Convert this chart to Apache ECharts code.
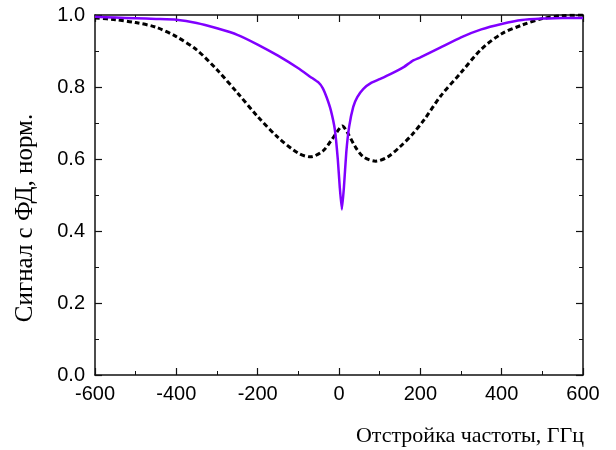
<!DOCTYPE html>
<html>
<head>
<meta charset="utf-8">
<script src="https://cdn.jsdelivr.net/npm/echarts@6/dist/echarts.min.js"></script>
<style>
  html, body { margin: 0; padding: 0; background: #fff; }
  #chart { width: 616px; height: 450px; }
</style>
</head>
<body>
<div id="chart"></div>
<script>
// violet curve (solid)
var violetX = [-600, -550, -500, -450, -400, -350, -300, -250, -200, -150, -100, -70, -50, -40, -30, -20, -10, -3, 2, 7, 12, 18, 25, 35, 45, 60, 80, 100, 130, 160, 180, 200, 250, 300, 350, 400, 450, 500, 550, 600];
var violetY = [0.995, 0.993, 0.991, 0.989, 0.987, 0.978, 0.963, 0.945, 0.918, 0.887, 0.852, 0.828, 0.812, 0.797, 0.77, 0.735, 0.68, 0.6, 0.52, 0.46, 0.52, 0.62, 0.69, 0.745, 0.772, 0.795, 0.812, 0.822, 0.838, 0.856, 0.872, 0.882, 0.91, 0.938, 0.96, 0.975, 0.986, 0.99, 0.992, 0.992];
// black curve (dotted)
var blackX = [-600, -550, -500, -450, -400, -350, -300, -250, -200, -150, -100, -70, -40, -20, 0, 8, 20, 40, 60, 90, 120, 150, 180, 210, 250, 300, 350, 400, 450, 500, 550, 600];
var blackY = [0.992, 0.987, 0.979, 0.966, 0.94, 0.903, 0.848, 0.784, 0.718, 0.66, 0.616, 0.606, 0.622, 0.65, 0.683, 0.692, 0.675, 0.634, 0.606, 0.594, 0.606, 0.634, 0.668, 0.71, 0.775, 0.84, 0.905, 0.948, 0.972, 0.99, 0.998, 1.0];

function zip(xs, ys) {
  return xs.map(function (x, i) { return [x, ys[i]]; });
}

var chart = echarts.init(document.getElementById('chart'));

var axisLine = { show: true, onZero: false, lineStyle: { color: '#111', width: 1.5 } };
var tickIn = { show: true, inside: true, length: 7, lineStyle: { color: '#111', width: 1.2 } };
var minorIn = { show: true, splitNumber: 2, length: 4, lineStyle: { color: '#111', width: 1 } };
var labelFont = { color: '#000', fontFamily: 'Liberation Sans, Arial', fontSize: 20 };
var serif = '"Liberation Serif", "Times New Roman", serif';

var option = {
  animation: false,
  grid: { left: 95, right: 33, top: 15, bottom: 75 },
  xAxis: [
    {
      type: 'value', min: -600, max: 600, interval: 200,
      axisLine: axisLine, axisTick: tickIn, minorTick: minorIn,
      splitLine: { show: false },
      axisLabel: Object.assign({ margin: 9 }, labelFont)
    },
    {
      type: 'value', position: 'top', min: -600, max: 600, interval: 200,
      axisLine: axisLine, axisTick: tickIn, minorTick: minorIn,
      splitLine: { show: false }, axisLabel: { show: false }
    }
  ],
  yAxis: [
    {
      type: 'value', min: 0, max: 1, interval: 0.2,
      axisLine: axisLine, axisTick: tickIn, minorTick: minorIn,
      splitLine: { show: false },
      axisLabel: Object.assign({ margin: 10, formatter: function (v) { return v.toFixed(1); } }, labelFont)
    },
    {
      type: 'value', position: 'right', min: 0, max: 1, interval: 0.2,
      axisLine: axisLine, axisTick: tickIn, minorTick: minorIn,
      splitLine: { show: false }, axisLabel: { show: false }
    }
  ],
  graphic: [
    {
      type: 'text', x: 25, y: 218, rotation: Math.PI / 2,
      style: {
        text: 'Сигнал с ФД, норм.',
        fill: '#000',
        font: '25px ' + serif,
        align: 'center', verticalAlign: 'middle'
      }
    },
    {
      type: 'text', x: 584, y: 436,
      style: {
        text: 'Отстройка частоты, ГГц',
        fill: '#000',
        font: '22px ' + serif,
        align: 'right', verticalAlign: 'middle'
      }
    }
  ],
  series: [
    {
      type: 'line',
      data: zip(blackX, blackY),
      showSymbol: false,
      smooth: 0.3,
      lineStyle: { color: '#000', width: 3, type: [5, 3] }
    },
    {
      type: 'line',
      data: zip(violetX, violetY),
      showSymbol: false,
      smooth: 0.15,
      lineStyle: { color: '#8000ff', width: 2.5 }
    }
  ]
};

chart.setOption(option);
</script>
</body>
</html>
